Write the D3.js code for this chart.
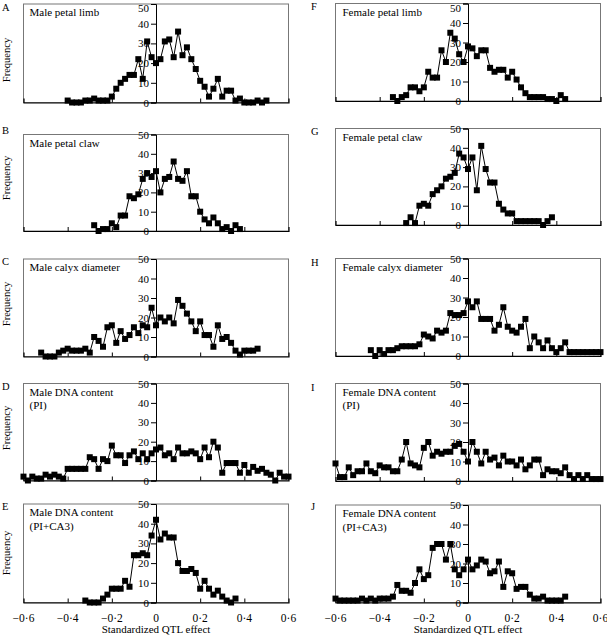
<!DOCTYPE html>
<html><head><meta charset="utf-8">
<script src="https://cdn.jsdelivr.net/npm/d3@7/dist/d3.min.js"></script>
<style>
body{margin:0;background:#fff}
svg{display:block}
text{font-family:"Liberation Serif","Times New Roman",serif;fill:#000}
</style>
</head><body>
<svg id="chart" width="607" height="640"></svg>
<script>
// ---- categories: standardized QTL effect bins ----
const bins = [-0.60,-0.58,-0.56,-0.54,-0.52,-0.50,-0.48,-0.46,-0.44,-0.42,
  -0.40,-0.38,-0.36,-0.34,-0.32,-0.30,-0.28,-0.26,-0.24,-0.22,
  -0.20,-0.18,-0.16,-0.14,-0.12,-0.10,-0.08,-0.06,-0.04,-0.02,
  0.00,0.02,0.04,0.06,0.08,0.10,0.12,0.14,0.16,0.18,
  0.20,0.22,0.24,0.26,0.28,0.30,0.32,0.34,0.36,0.38,
  0.40,0.42,0.44,0.46,0.48,0.50,0.52,0.54,0.56,0.58,0.60];

const xTicks = [-0.6,-0.4,-0.2,0,0.2,0.4,0.6];
const xTickLabels = ["\u22120\u00b76","\u22120\u00b74","\u22120\u00b72","0","0\u00b72","0\u00b74","0\u00b76"];
const yTicks = [0,10,20,30,40,50];

const panelLetters = ["A","B","C","D","E","F","G","H","I","J"];
const panelTitles = [
  ["Male petal limb"],["Male petal claw"],["Male calyx diameter"],
  ["Male DNA content","(PI)"],["Male DNA content","(PI+CA3)"],
  ["Female petal limb"],["Female petal claw"],["Female calyx diameter"],
  ["Female DNA content","(PI)"],["Female DNA content","(PI+CA3)"]
];

// first bin index of each series
const seriesStartBin = [10,16,4,0,14,13,16,8,0,0];

// ---- frequencies ----
const malePetalLimb = [1,0,0,0,1,1,2,1,1,1, 3,7,10,12,14,14,22,12,31,23, 20,22,31,32,23,36,24,28,22,17, 11,8,3,7,12,3,6,6,1,2, 0,0,0,1,0,1];
const malePetalClaw = [3,0,1,1,4,2,8,8,18,17, 19,27,30,28,31,20,27,28,36,27, 26,31,18,18,10,6,4,7,4,1, 2,0,3,1];
const maleCalyx = [2,0,0,0,2,3,4,3,3,3, 4,2,10,8,5,15,16,7,13,9, 11,15,12,16,15,25,16,20,18,20, 17,29,26,22,18,13,18,11,11,5, 16,9,10,7,3,1,3,3,3,4];
const maleDnaPI = [2,0,2,1,1,3,2,3,2,1, 6,6,6,6,6,12,11,6,11,10, 18,13,13,9,13,15,11,14,11,14, 16,17,13,14,11,17,14,14,15,14, 11,17,12,20,17,4,9,9,9,4, 8,4,7,5,6,4,3,0,4,2,2];
const maleDnaPICA3 = [1,0,0,0,2,4,7,7,7,11, 8,24,24,25,24,34,42,32,35,33, 33,20,16,16,17,15,7,11,7,4, 6,3,1,0,2];
const femalePetalLimb = [2,0,2,3,7,7,5,7,15,12, 12,26,20,35,32,24,20,28,27,23, 26,26,17,15,16,16,12,15,11,7, 4,2,2,2,2,1,1,0,3,1];
const femalePetalClaw = [1,4,1,10,11,10,16,18,20,24, 25,27,37,35,29,35,18,41,29,22, 22,11,8,6,6,2,2,2,2,2, 2,0,2,4];
const femaleCalyx = [3,0,3,1,3,3,4,5,5,5, 5,6,11,10,9,13,12,13,22,21, 21,22,28,25,28,19,19,19,13,16, 25,15,13,12,15,19,4,10,7,4, 8,4,2,4,7,2,2,2,2,2, 2,2,2];
const femaleDnaPI = [9,2,2,7,3,5,5,9,5,4, 8,7,7,5,5,11,20,9,8,7, 17,20,13,15,14,15,15,18,19,15, 10,20,15,9,15,11,12,8,13,10, 10,8,11,6,8,11,11,3,6,5, 5,4,7,3,1,3,1,3,1,1, 1];
const femaleDnaPICA3 = [2,1,1,1,1,1,2,1,2,1, 2,2,2,3,9,6,6,5,10,17, 12,14,28,30,30,22,30,17,14,17, 22,17,19,22,21,15,16,21,8,16, 15,7,8,8,4,2,2,3,1,1, 1,1,3];

const seriesList = [malePetalLimb,malePetalClaw,maleCalyx,maleDnaPI,maleDnaPICA3,
  femalePetalLimb,femalePetalClaw,femaleCalyx,femaleDnaPI,femaleDnaPICA3];

// ---- layout ----
const cols = [{x0:23.5,x1:288.5,letterX:2},{x0:335.5,x1:600.5,letterX:311}];
const layout = [
  {col:0,top:4,bottom:102.5,letterY:11,freqY:60},
  {col:0,top:134.5,bottom:231,letterY:134,freqY:178},
  {col:0,top:259,bottom:356.5,letterY:265,freqY:304},
  {col:0,top:383.5,bottom:480.5,letterY:390,freqY:428},
  {col:0,top:504,bottom:602.5,letterY:510,freqY:553},
  {col:1,top:3.5,bottom:101,letterY:10},
  {col:1,top:128.5,bottom:225,letterY:135},
  {col:1,top:258.5,bottom:356,letterY:266},
  {col:1,top:383.5,bottom:481,letterY:391},
  {col:1,top:505,bottom:602.5,letterY:510}
];

const svg = d3.select("#chart");
const MS = 6;

layout.forEach((L,i)=>{
  const c = cols[L.col];
  const x = d3.scaleLinear().domain([-0.6,0.6]).range([c.x0,c.x1]);
  const y = d3.scaleLinear().domain([0,50]).range([L.bottom,L.top]);
  const g = svg.append("g");

  // frame
  g.append("rect").attr("x",c.x0).attr("y",L.top).attr("width",c.x1-c.x0).attr("height",L.bottom-L.top)
    .attr("fill","none").attr("stroke","#777").attr("stroke-width",1);

  // x axis (ticks pointing up, inside)
  const xAxis = d3.axisBottom(x).tickValues(xTicks.filter(t=>Math.abs(t)>0.01 && Math.abs(t)<0.59))
    .tickSize(-4).tickFormat("");
  const xa = g.append("g").attr("transform",`translate(0,${L.bottom})`).call(xAxis);
  xa.select(".domain").attr("stroke","#000").attr("stroke-width",1.2);
  xa.selectAll(".tick line").attr("stroke","#000");

  // bottom tick labels
  if (i===4 || i===9) {
    g.selectAll(".xl").data(xTicks).enter().append("text")
      .attr("x",d=>x(d)).attr("y",L.bottom+19).attr("text-anchor","middle")
      .attr("font-size",11.5).text((d,j)=>xTickLabels[j]);
    g.append("text").attr("x",x(0)).attr("y",L.bottom+30).attr("text-anchor","middle")
      .attr("font-size",11).text("Standardized QTL effect");
  }

  // y axis at x = 0
  const yAxis = d3.axisLeft(y).tickValues(yTicks).tickSize(5).tickPadding(2).tickFormat(d3.format("d"));
  const ya = g.append("g").attr("transform",`translate(${x(0)},0)`).call(yAxis);
  ya.select(".domain").attr("stroke","#000").attr("stroke-width",1);
  ya.selectAll(".tick line").attr("stroke","#000");
  ya.selectAll(".tick text").attr("font-family","Liberation Serif, serif").attr("font-size",11).attr("fill","#000");
  // keep the top label of the first row inside the picture
  if (L.top < 10) ya.selectAll(".tick text").filter(d=>d===50).attr("dy","0.72em");

  // data
  const vals = seriesList[i];
  const s0 = seriesStartBin[i];
  const pts = vals.map((v,j)=>({b:bins[s0+j],v}));
  const line = d3.line().x(d=>x(d.b)).y(d=>y(d.v));
  g.append("path").datum(pts).attr("d",line).attr("fill","none").attr("stroke","#000").attr("stroke-width",1);
  g.selectAll(".m").data(pts).enter().append("rect")
    .attr("x",d=>x(d.b)-MS/2).attr("y",d=>y(d.v)-MS/2).attr("width",MS).attr("height",MS).attr("fill","#000");

  // panel letter
  svg.append("text").attr("x",c.letterX).attr("y",L.letterY).attr("font-size",10.5).text(panelLetters[i]);

  // title
  panelTitles[i].forEach((t,k)=>{
    g.append("text").attr("x",c.x0+(L.col===0?6:7)).attr("y",L.top+12+k*13.5)
      .attr("font-size",11).text(t);
  });

  // Frequency label
  if (L.col===0) {
    svg.append("text").attr("transform",`translate(10,${L.freqY}) rotate(-90)`)
      .attr("text-anchor","middle").attr("font-size",10.5).text("Frequency");
  }
});
</script>
</body></html>
